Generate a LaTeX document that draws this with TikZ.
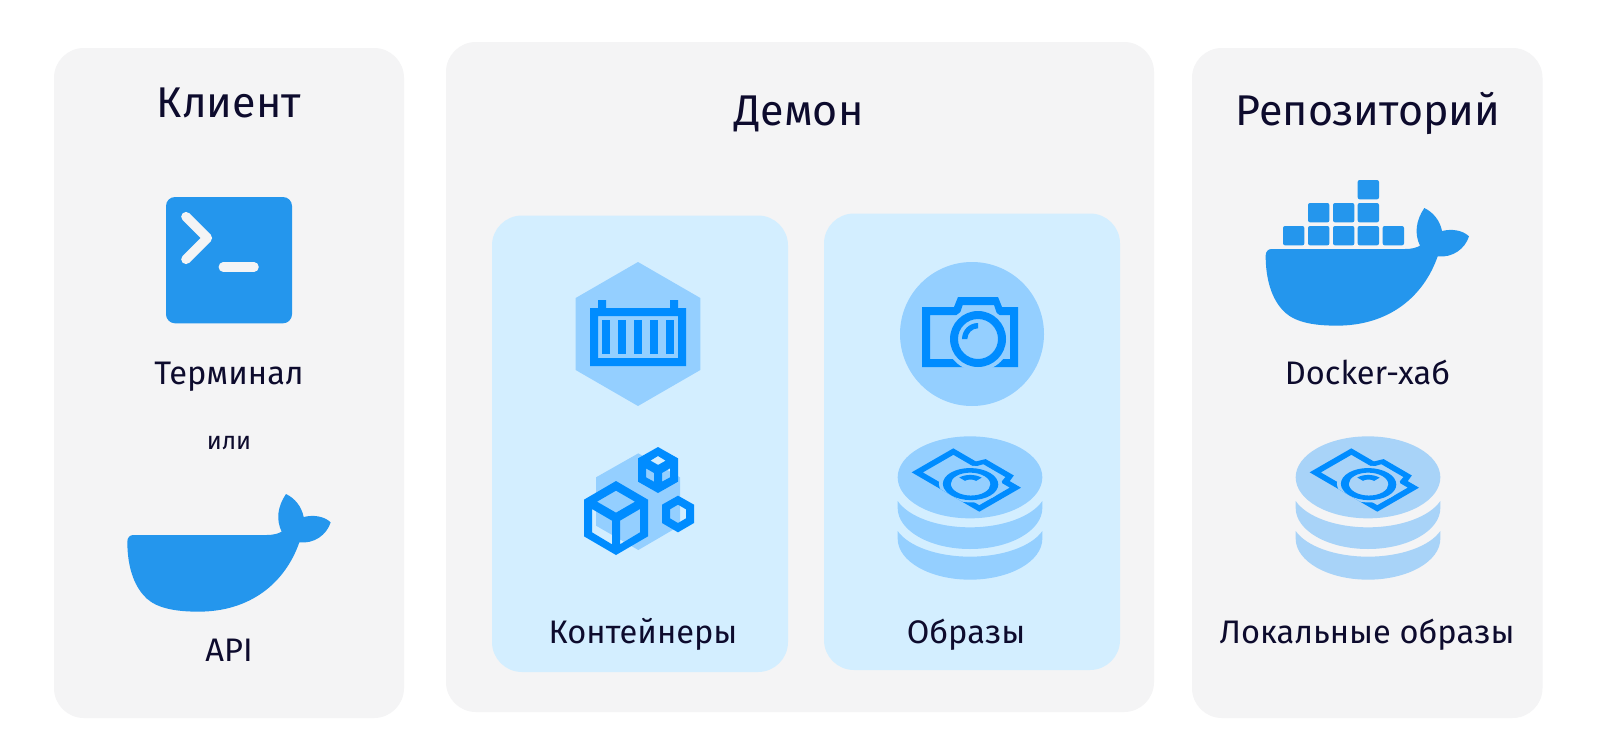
\documentclass[tikz,border=0pt]{standalone}
\usepackage{fontspec}
\setmainfont{Fira Sans}
\definecolor{panel}{HTML}{F4F4F5}
\definecolor{inner}{HTML}{D3EEFF}
\definecolor{soft}{HTML}{94CFFF}
\definecolor{softb}{HTML}{A8D3F8}
\definecolor{vivid}{HTML}{008CFF}
\definecolor{dock}{HTML}{2496ED}
\definecolor{ink}{HTML}{0D0B2D}
\tikzset{
  x=1pt,y=-1pt,
  panelbox/.style={fill=panel,rounded corners=30pt},
  innerbox/.style={fill=inner,rounded corners=30pt},
  title/.style={text=ink,anchor=base,inner sep=0pt,font=\fontsize{43}{43}\selectfont},
  label/.style={text=ink,anchor=base,inner sep=0pt,font=\fontsize{32.6}{33}\selectfont},
  small/.style={text=ink,anchor=base,inner sep=0pt,font=\fontsize{25}{25}\selectfont},
}
% camera in local zoom coordinates; #1 = colour round the lens, #2 = inner radius of the highlight
\newcommand{\camicon}[2]{%
  \fill[vivid,even odd rule] (96,156)--(192,156)--(204,126)--(324,126)--(336,156)--(384,156)--(384,336)--(96,336)--cycle
    (120,180)--(208,180)--(218,150)--(312,150)--(322,180)--(360,180)--(360,312)--(120,312)--cycle;
  \begin{scope}
    \clip (96,120) rectangle (384,336);
    \fill[#1] (264,252) circle[radius=96];
  \end{scope}
  \fill[vivid,even odd rule] (264,252) circle[radius=84] (264,252) circle[radius=60];
  \fill[vivid] (216,252) arc[start angle=180,end angle=270,radius=48] -- ++(0,48-#2) arc[start angle=270,end angle=180,radius=#2] -- cycle;
}
\newcommand{\stackicon}[1]{%
  \fill[#1] (23,157) arc[start angle=180,end angle=-180,x radius=217,y radius=123] -- cycle;
  \fill[#1] (23,228) .. controls (55,275) and (142,307) .. (240,307) .. controls (338,307) and (425,275) .. (457,228) -- (457,249) .. controls (457,317) and (360,372) .. (240,372) .. controls (120,372) and (23,317) .. (23,249) -- cycle;
  \fill[#1] (23,318) .. controls (55,364) and (142,395) .. (240,395) .. controls (338,395) and (425,364) .. (457,318) -- (457,341) .. controls (457,409) and (360,464) .. (240,464) .. controls (120,464) and (23,409) .. (23,341) -- cycle;
  \begin{scope}[cm={.705,-.41,.694,.4,(230.5,-31.76)}]
    \camicon{#1}{24}
  \end{scope}
}
\newcommand{\whaleshape}{%
  \fill[dock] (52,185) .. controls (52,172) and (60,165) .. (70,165) -- (470,165)
   .. controls (490,165) and (505,161) .. (515,155)
   .. controls (498,120) and (502,80) .. (528,42)
   .. controls (555,55) and (575,80) .. (581,111)
   .. controls (610,104) and (642,108) .. (662,127)
   .. controls (650,165) and (612,192) .. (568,187)
   .. controls (525,310) and (420,395) .. (265,395)
   .. controls (170,395) and (125,375) .. (100,345)
   .. controls (65,305) and (52,245) .. (52,185) -- cycle;
}
\begin{document}
\begin{tikzpicture}
\useasboundingbox (0,0) rectangle (1600,736);
\fill[white] (0,0) rectangle (1600,736);
% panels
\fill[panelbox] (54,48) rectangle (404,718);
\fill[panelbox] (446,42) rectangle (1154,712);
\fill[panelbox] (1192,48) rectangle (1542.5,718);
\fill[innerbox] (492,215.5) rectangle (788,672);
\fill[innerbox] (824,213.5) rectangle (1120,670);
% terminal
\fill[dock,rounded corners=9pt] (166,197) rectangle (292,323.3);
\draw[panel,line width=9.6pt,line cap=round,line join=round] (186,216.7)--(207.3,238)--(186,259.3);
\draw[panel,line width=9.5pt,line cap=round] (223.3,267)--(254,267);
% API whale
\begin{scope}[cm={.33333,0,0,.33333,(110,480)}]
  \whaleshape
\end{scope}
% hub whale
\begin{scope}[cm={.33333,0,0,.33333,(1248.33,194)}]
  \whaleshape
\end{scope}
\begin{scope}[cm={.33333,0,0,.33333,(1250,170)}]
  \foreach \xa in {99,174,249,323,398}{\fill[dock,rounded corners=2pt] (\xa,168) rectangle ++(64,58);}
  \foreach \xa in {174,249,323}{\fill[dock,rounded corners=2pt] (\xa,99) rectangle ++(64,58);}
  \fill[dock,rounded corners=2pt] (323,30) rectangle ++(64,58);
\end{scope}
% container
\begin{scope}[cm={.33333,0,0,.33333,(560,250)}]
  \fill[soft] (234,36)--(421,144)--(421,360)--(234,468)--(47,360)--(47,144)--cycle;
  \fill[vivid,even odd rule] (90,174) rectangle (378,348) (114,198) rectangle (354,324);
  \foreach \xa in {126,174,222,270,318}{\fill[vivid] (\xa,210) rectangle ++(24,102);}
  \fill[vivid] (114,150) rectangle (138,174) (330,150) rectangle (354,174);
\end{scope}
% cubes
\begin{scope}[cm={.33333,0,0,.33333,(570,435)}]
  \fill[soft] (205,55)--(330,127)--(330,272)--(205,345)--(78,272)--(78,127)--cycle;
  \fill[vivid,even odd rule] (138,138)--(234,194)--(234,304)--(138,360)--(42,304)--(42,194)--cycle
    (138,167)--(195,200)--(138,233)--(81,200)--cycle
    (66,222)--(126,257)--(126,328)--(66,292)--cycle
    (150,257)--(210,222)--(210,292)--(150,328)--cycle;
  \fill[vivid,even odd rule] (264,36)--(324,70)--(324,140)--(264,174)--(204,140)--(204,70)--cycle
    (264,63)--(287,77)--(264,90)--(241,77)--cycle
    (228,100)--(252,114)--(252,140)--(228,127)--cycle
    (276,114)--(300,100)--(300,127)--(276,140)--cycle;
  \fill[vivid,even odd rule] (324,182)--(372,209)--(372,264)--(324,292)--(276,264)--(276,209)--cycle
    (324,209)--(348,223)--(348,250)--(324,264)--(300,250)--(300,223)--cycle;
\end{scope}
% camera
\begin{scope}[cm={.33333,0,0,.33333,(890,255)}]
  \fill[soft] (246,237) circle[radius=216];
  \camicon{soft}{32}
\end{scope}
% stacks
\begin{scope}[cm={.33333,0,0,.33333,(890,425)}]
  \stackicon{soft}
\end{scope}
\begin{scope}[cm={.33333,0,0,.33333,(1288,425)}]
  \stackicon{softb}
\end{scope}
% texts
\node[title] (t1) at (229,117) {Клиент};
\node[title] (t2) at (799,125) {Демон};
\node[title] (t3) at (1368,125) {Репозиторий};
\node[label] (l1) at (229,384) {Терминал};
\node[small] (l2) at (229,449) {или};
\node[label] (l3) at (229,661) {API};
\node[label] (l4) at (643,643) {Контейнеры};
\node[label] (l5) at (966,643) {Образы};
\node[label] (l6) at (1367.5,384) {Docker-хаб};
\node[label] (l7) at (1367,643) {Локальные образы};
\end{tikzpicture}
\end{document}
